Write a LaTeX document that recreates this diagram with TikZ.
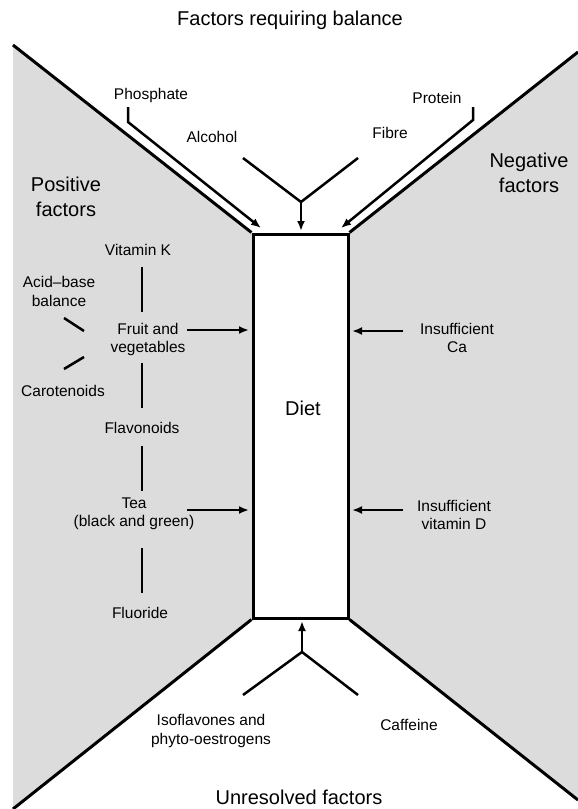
\documentclass[tikz,border=0pt]{standalone}
\usepackage{fontspec}
\setmainfont{Liberation Sans}
\usetikzlibrary{arrows.meta}
\definecolor{panel}{RGB}{220,220,220}
\begin{document}
\begin{tikzpicture}[x=1pt,y=-1pt,
  lbl/.style={font=\fontsize{15.5}{18.5}\selectfont, align=center, inner sep=0pt},
  big/.style={font=\fontsize{20}{24.5}\selectfont, align=center, inner sep=0pt},
  edge/.style={line width=3pt, line join=miter},
  conn/.style={line width=2.5pt},
  arr/.style={conn, -{Latex[length=10pt,width=8pt]}}]
\useasboundingbox (0,0) rectangle (578,809);
% panels
\fill[panel] (13,45) -- (253,234) -- (253,618) -- (13,809) -- cycle;
\fill[panel] (578,52) -- (348,234) -- (348,618) -- (578,800) -- cycle;
\node[draw, line width=3pt, fill=white, minimum width=95pt, minimum height=384pt, inner sep=0pt] (diet) at (300.5,426) {};
\node[big] (diettxt) at (303,408) {Diet};
\coordinate (lt) at (13,45);
\coordinate (lb) at (13,809);
\coordinate (rt) at (578,52);
\coordinate (rb) at (578,800);
\draw[edge] (lt) -- (diet.north west);
\draw[edge] (lb) -- (diet.south west);
\draw[edge] (rt) -- (diet.north east);
\draw[edge] (rb) -- (diet.south east);
% titles
\node[big] (top) at (290,20) {Factors requiring balance};
\node[big] (bot) at (299,797) {Unresolved factors};
\node[big] (pos) at (66,197) {Positive\\factors};
\node[big] (neg) at (529,173) {Negative\\factors};
% top factors
\node[lbl] (phos) at (151,95) {Phosphate};
\node[lbl] (alc) at (212,137) {Alcohol};
\node[lbl] (fib) at (390,133) {Fibre};
\node[lbl] (prot) at (437,98) {Protein};
\coordinate (phA) at (128,107);
\coordinate (phB) at (128,122);
\coordinate (phT) at (261,228);
\draw[arr] (phA) -- (phB) -- (phT);
\coordinate (prA) at (473,107);
\coordinate (prB) at (473,120);
\coordinate (prT) at (341,228);
\draw[arr] (prA) -- (prB) -- (prT);
\coordinate (alA) at (243,158);
\coordinate (fiA) at (358,158);
\coordinate (tj) at (301,202);
\draw[conn] (alA) -- (tj) -- (fiA);
\draw[arr] (tj) -- (301,231);
% bottom factors
\node[lbl] (iso) at (211,731) {Isoflavones and\\phyto-oestrogens};
\node[lbl] (caf) at (409,725) {Caffeine};
\coordinate (isA) at (243,695);
\coordinate (caA) at (358,695);
\coordinate (bj) at (302,652);
\draw[conn] (isA) -- (bj) -- (caA);
\draw[arr] (bj) -- (302,621);
% positive side
\node[lbl] (vitk) at (138,250) {Vitamin K};
\node[lbl] (fruit) at (148,339.5) {Fruit and\\vegetables};
\node[lbl] (acid) at (59,291.5) {Acid--base\\balance};
\node[lbl] (carot) at (63,391) {Carotenoids};
\node[lbl] (flav) at (142,428) {Flavonoids};
\node[lbl] (tea) at (134,514) {Tea\\(black and green)};
\node[lbl] (fluor) at (140,613) {Fluoride};
\draw[conn] (142,267) -- (142,312);
\draw[conn] (64,318) -- (84,331);
\draw[conn] (64,369) -- (84,357);
\draw[conn] (142,363) -- (142,408);
\draw[conn] (142,446) -- (142,491);
\draw[conn] (142,548) -- (142,593);
\draw[arr] (187,330) -- (249,330);
\draw[arr] (187,510) -- (249,510);
% negative side
\node[lbl] (ca) at (457,338) {Insufficient\\Ca};
\node[lbl] (vd) at (454,515) {Insufficient\\vitamin D};
\draw[arr] (403,331) -- (352,331);
\draw[arr] (403,510) -- (352,510);
\end{tikzpicture}
\end{document}
